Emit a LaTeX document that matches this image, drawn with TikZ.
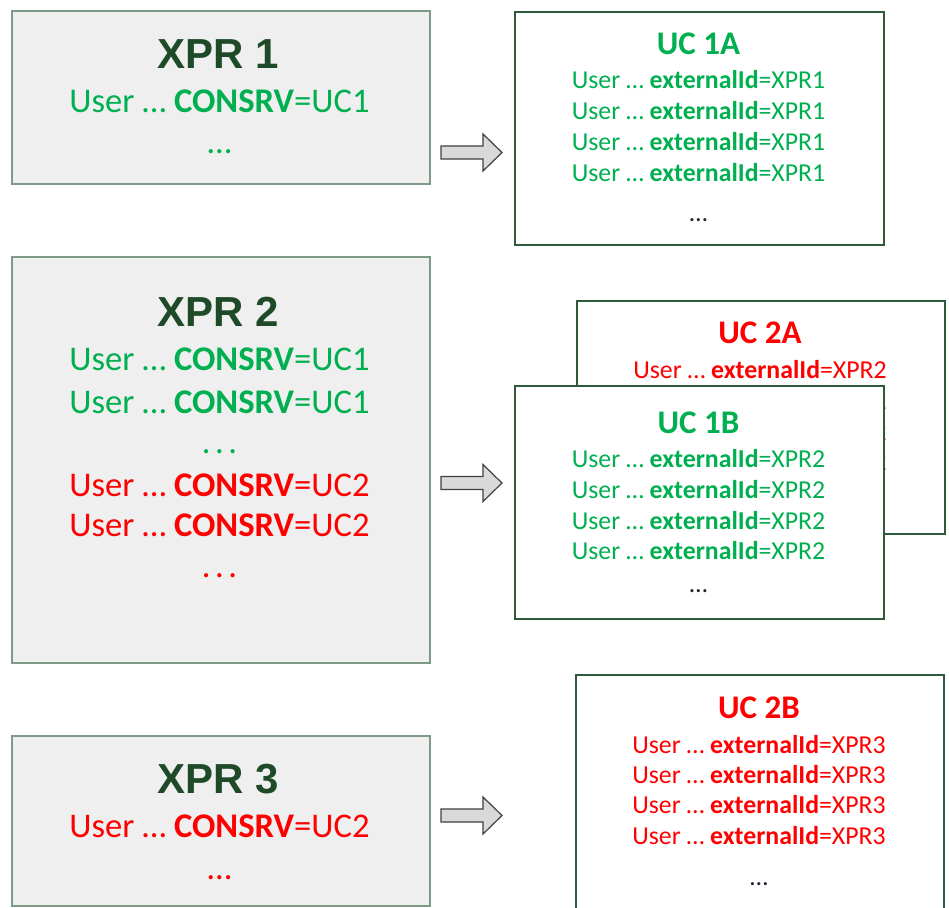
\documentclass[tikz,border=0pt]{standalone}
\usepackage{fontspec}
\setmainfont{Carlito}
\newfontfamily\headfont{Liberation Sans}
\definecolor{okgreen}{HTML}{00B050}
\definecolor{errred}{HTML}{FF0000}
\definecolor{headgreen}{HTML}{1E4A28}
\definecolor{srcfill}{HTML}{EFEFEF}
\definecolor{srcedge}{HTML}{7E9A86}
\definecolor{dstedge}{HTML}{2E5A3A}
\definecolor{arrowfill}{HTML}{D9D9D9}
\definecolor{arrowedge}{HTML}{404040}
\definecolor{dotink}{HTML}{1F2630}
\tikzset{
  srcbox/.style={draw=srcedge, line width=1.6pt, fill=srcfill, rectangle,
    inner sep=0pt, anchor=north west},
  dstbox/.style={draw=dstedge, line width=1.8pt, fill=white, rectangle,
    inner sep=0pt, anchor=north west},
  srchead/.style={anchor=base, inner sep=0pt, text=headgreen,
    font=\headfont\bfseries\fontsize{42}{42}\selectfont},
  srcline/.style={anchor=base, inner sep=0pt,
    font=\fontsize{34.6}{34.6}\selectfont},
  dsthead/.style={anchor=base, inner sep=0pt,
    font=\bfseries\fontsize{33}{33}\selectfont},
  dstline/.style={anchor=base, inner sep=0pt,
    font=\fontsize{25.8}{25.8}\selectfont},
  blockarrow/.style={draw=arrowedge, fill=arrowfill, line width=1.2pt, line join=miter}
}
% block arrow drawn from its left end (shaft centre line)
\newcommand{\blockarrowat}[1]{%
  \draw[blockarrow] (#1) ++(0,-6.5) -- ++(42,0) -- ++(0,-12) -- ++(19,18.5)
    -- ++(-19,18.5) -- ++(0,-12) -- ++(-42,0) -- cycle;}
\newcommand{\spreaddots}{.\kern4.5pt.\kern4.5pt.}
\begin{document}
\begin{tikzpicture}[x=1pt,y=-1pt]
\useasboundingbox (0,0) rectangle (949,907);
\clip (0,0) rectangle (949,907);

% ---------- source partitions ----------
\node[srcbox, minimum width=418pt, minimum height=173pt] (xpr1) at (11,10) {};
\node[srchead] (xpr1h) at (218,68) {XPR 1};
\node[srcline, text=okgreen] (xpr1a) at (219.5,112) {User … \textbf{CONSRV}=UC1};
\node[srcline, text=okgreen] (xpr1d) at (219.5,153) {…};

\node[srcbox, minimum width=418pt, minimum height=406pt] (xpr2) at (11,256) {};
\node[srchead] (xpr2h) at (218,326) {XPR 2};
\node[srcline, text=okgreen] (xpr2a) at (219.5,370) {User … \textbf{CONSRV}=UC1};
\node[srcline, text=okgreen] (xpr2b) at (219.5,413) {User … \textbf{CONSRV}=UC1};
\node[srcline, text=okgreen] (xpr2c) at (219.5,453) {\spreaddots};
\node[srcline, text=errred] (xpr2d) at (219.5,496) {User … \textbf{CONSRV}=UC2};
\node[srcline, text=errred] (xpr2e) at (219.5,536) {User … \textbf{CONSRV}=UC2};
\node[srcline, text=errred] (xpr2f) at (219.5,577) {\spreaddots};

\node[srcbox, minimum width=418pt, minimum height=170pt] (xpr3) at (11,735) {};
\node[srchead] (xpr3h) at (218,793) {XPR 3};
\node[srcline, text=errred] (xpr3a) at (219.5,837) {User … \textbf{CONSRV}=UC2};
\node[srcline, text=errred] (xpr3d) at (219.5,879) {…};

% ---------- target collections ----------
\node[dstbox, minimum width=369pt, minimum height=233pt] (uc1a) at (514,11) {};
\node[dsthead, text=okgreen] (uc1ah) at (698.5,54) {UC 1A};
\foreach \y/\k in {88/1,119/2,150/3,181/4}
  \node[dstline, text=okgreen] (uc1a\k) at (698.5,\y) {User … \textbf{externalId}=XPR1};
\node[dstline, text=dotink] (uc1ad) at (698.5,221) {…};

\node[dstbox, minimum width=368pt, minimum height=233pt] (uc2a) at (576,300) {};
\node[dsthead, text=errred] (uc2ah) at (760,343) {UC 2A};
\foreach \y/\k in {378/1,409/2,440/3,470/4}
  \node[dstline, text=errred] (uc2a\k) at (760,\y) {User … \textbf{externalId}=XPR2};

\node[dstbox, minimum width=369pt, minimum height=233pt] (uc1b) at (514,385) {};
\node[dsthead, text=okgreen] (uc1bh) at (698.5,433) {UC 1B};
\foreach \y/\k in {467/1,498/2,529/3,559/4}
  \node[dstline, text=okgreen] (uc1b\k) at (698.5,\y) {User … \textbf{externalId}=XPR2};
\node[dstline, text=dotink] (uc1bd) at (698.5,592) {…};

\node[dstbox, minimum width=368pt, minimum height=250pt] (uc2b) at (575,674) {};
\node[dsthead, text=errred] (uc2bh) at (759,718) {UC 2B};
\foreach \y/\k in {753/1,783/2,813/3,844/4}
  \node[dstline, text=errred] (uc2b\k) at (759,\y) {User … \textbf{externalId}=XPR3};
\node[dstline, text=dotink] (uc2bd) at (759,885) {…};

% ---------- mapping arrows ----------
\coordinate (m1) at (441,152.5);
\coordinate (m2) at (441,483);
\coordinate (m3) at (441,815.5);
\blockarrowat{m1}
\blockarrowat{m2}
\blockarrowat{m3}
\end{tikzpicture}
\end{document}
